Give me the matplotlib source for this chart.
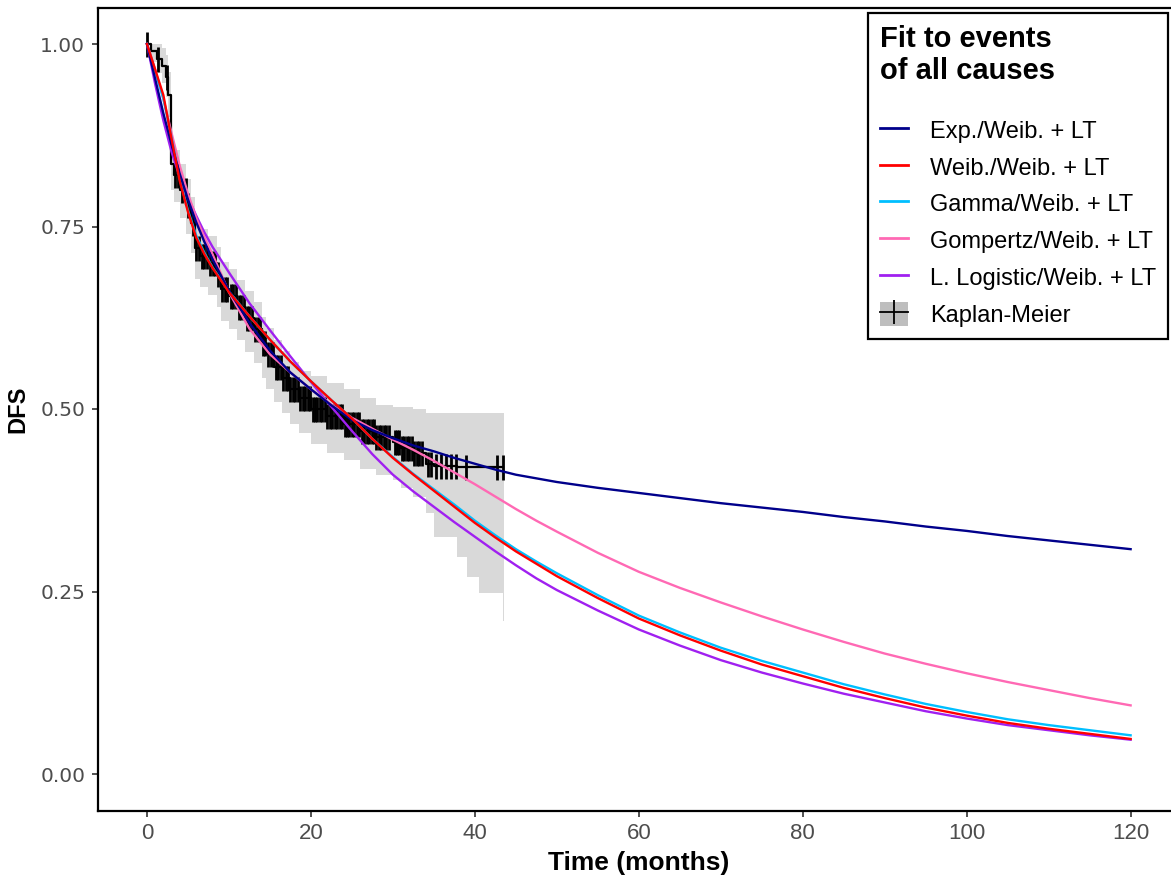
import numpy as np
import matplotlib.pyplot as plt
from matplotlib.lines import Line2D
from matplotlib.patches import Patch
from matplotlib import font_manager

# ---- data ----
t_fit = [0, 1, 2, 3, 4, 5, 6, 7, 8, 10, 12.5, 15, 17.5, 20, 22.5, 25, 27.5, 30, 32.5, 35, 37.5, 40, 42.5,
         45, 47.5, 50, 55, 60, 65, 70, 75, 80, 85, 90, 95, 100, 105, 110, 115, 120]

s_exp = [1.0, 0.952, 0.905, 0.862, 0.822, 0.787, 0.756, 0.729, 0.705, 0.662, 0.618, 0.58, 0.55, 0.527, 0.505,
         0.485, 0.471, 0.46, 0.45, 0.442, 0.433, 0.425, 0.417, 0.41, 0.405, 0.4, 0.392, 0.385, 0.378, 0.371,
         0.365, 0.359, 0.352, 0.346, 0.339, 0.333, 0.326, 0.32, 0.314, 0.308]
s_weib = [1.0, 0.965, 0.93, 0.87, 0.812, 0.77, 0.735, 0.712, 0.693, 0.66, 0.627, 0.595, 0.565, 0.538, 0.512,
          0.487, 0.459, 0.433, 0.41, 0.388, 0.366, 0.344, 0.324, 0.305, 0.288, 0.271, 0.241, 0.213, 0.19, 0.169,
          0.15, 0.134, 0.118, 0.104, 0.091, 0.08, 0.07, 0.062, 0.055, 0.048]
s_gamma = [1.0, 0.963, 0.925, 0.872, 0.815, 0.772, 0.738, 0.714, 0.694, 0.661, 0.627, 0.595, 0.565, 0.538, 0.512,
           0.487, 0.459, 0.434, 0.411, 0.39, 0.369, 0.347, 0.327, 0.308, 0.291, 0.275, 0.245, 0.217, 0.194, 0.173,
           0.155, 0.139, 0.123, 0.109, 0.096, 0.085, 0.075, 0.067, 0.06, 0.053]
s_gomp = [1.0, 0.965, 0.925, 0.878, 0.833, 0.795, 0.762, 0.735, 0.712, 0.66, 0.61, 0.575, 0.55, 0.527, 0.506,
          0.488, 0.473, 0.458, 0.444, 0.429, 0.413, 0.397, 0.38, 0.363, 0.347, 0.332, 0.303, 0.277, 0.255, 0.235,
          0.216, 0.198, 0.181, 0.165, 0.151, 0.138, 0.126, 0.115, 0.104, 0.094]
s_llog = [1.0, 0.945, 0.895, 0.852, 0.818, 0.79, 0.765, 0.742, 0.722, 0.687, 0.645, 0.608, 0.572, 0.537, 0.503,
          0.47, 0.438, 0.41, 0.387, 0.366, 0.345, 0.325, 0.305, 0.286, 0.268, 0.252, 0.224, 0.198, 0.176, 0.156,
          0.139, 0.124, 0.11, 0.098, 0.086, 0.076, 0.067, 0.06, 0.053, 0.047]

# Kaplan-Meier step function with its confidence band
km_t = [0, 0.5, 1.2, 1.8, 2.3, 2.6, 2.9, 3.3, 4.0, 4.8, 5.4, 5.8, 6.5, 7.5, 8.5, 9.0, 10.0, 11.0, 12.0, 13.0,
        14.0, 14.5, 15.5, 16.5, 17.5, 18.5, 20.0, 22.0, 24.0, 26.0, 28.0, 30.0, 31.0, 32.5, 34.0, 35.0, 37.8,
        39.0, 40.5, 43.4]
km_s = [1.0, 0.99, 0.98, 0.97, 0.955, 0.93, 0.835, 0.82, 0.80, 0.78, 0.755, 0.72, 0.71, 0.70, 0.685, 0.665,
        0.655, 0.64, 0.625, 0.61, 0.59, 0.575, 0.558, 0.543, 0.528, 0.515, 0.50, 0.49, 0.48, 0.47, 0.462, 0.455,
        0.447, 0.44, 0.425, 0.422, 0.42, 0.42, 0.42, 0.42]
km_lo = [1.0, 0.975, 0.960, 0.946, 0.928, 0.900, 0.800, 0.784, 0.762, 0.740, 0.714, 0.678, 0.667, 0.656, 0.640,
         0.620, 0.610, 0.594, 0.578, 0.563, 0.542, 0.527, 0.510, 0.495, 0.480, 0.467, 0.452, 0.440, 0.430, 0.418,
         0.410, 0.403, 0.392, 0.380, 0.357, 0.325, 0.297, 0.270, 0.248, 0.210]
km_hi = [1.0, 1.0, 1.0, 0.995, 0.985, 0.962, 0.87, 0.855, 0.835, 0.815, 0.79, 0.757, 0.747, 0.737, 0.722, 0.702,
         0.692, 0.677, 0.661, 0.646, 0.626, 0.611, 0.594, 0.579, 0.564, 0.552, 0.545, 0.536, 0.527, 0.515, 0.505,
         0.503, 0.503, 0.5, 0.494, 0.494, 0.494, 0.494, 0.494, 0.494]
km_end = 43.6

# censoring marks (months)
cens_t = [0.0, 1.4, 2.5, 3.4, 3.8, 4.3, 4.7, 5.0, 5.6, 6.0, 6.3, 6.7, 7.0, 7.3, 7.7, 8.0, 8.3, 8.7, 9.2, 9.5,
          9.8, 10.2, 10.5, 10.8, 11.2, 11.5, 11.8, 12.2, 12.5, 12.8, 13.2, 13.5, 13.8, 14.2, 14.4, 14.8, 15.1,
          15.4, 15.7, 16.0, 16.3, 16.6, 16.9, 17.2, 17.5, 17.8, 18.1, 18.4, 18.7, 19.0, 19.3, 19.6, 19.9, 20.2,
          20.5, 20.8, 21.1, 21.4, 21.7, 22.0, 22.3, 22.6, 22.9, 23.2, 23.5, 23.8, 24.1, 24.4, 24.7, 25.0, 25.3,
          25.6, 25.9, 26.2, 26.5, 26.8, 27.1, 27.4, 27.7, 28.0, 28.3, 28.6, 28.9, 29.2, 29.5, 30.2, 30.5, 30.8,
          31.1, 31.4, 31.7, 32.0, 32.3, 32.6, 32.9, 33.2, 33.5, 34.3, 34.7, 35.3, 35.9, 36.5, 37.1, 37.7, 38.9,
          42.7, 43.4]

labels = ["Exp./Weib. + LT", "Weib./Weib. + LT", "Gamma/Weib. + LT", "Gompertz/Weib. + LT", "L. Logistic/Weib. + LT"]
colors = ["#00008B", "#FF0000", "#00BFFF", "#FF69B4", "#A020F0"]
curves = [s_exp, s_weib, s_gamma, s_gomp, s_llog]

installed = {f.name for f in font_manager.fontManager.ttflist}
base_font = "Liberation Sans" if "Liberation Sans" in installed else "DejaVu Sans"
narrow_font = "Liberation Sans Narrow" if "Liberation Sans Narrow" in installed else base_font
plt.rcParams['font.family'] = [base_font, 'DejaVu Sans']

fig = plt.figure(figsize=(11.71, 8.77), dpi=100)
ax = fig.add_axes([97.8 / 1171, 66.5 / 877, 1082 / 1171, 803 / 877])

# KM band + steps + censor ticks
ax.fill_between(km_t + [km_end], km_lo + [km_lo[-1]], km_hi + [km_hi[-1]], step='post',
                color='#d9d9d9', lw=0, zorder=1)
ax.step(km_t, km_s, where='post', color='black', lw=1.6, zorder=2)
idx = np.searchsorted(km_t, cens_t, side='right') - 1
ax.plot(cens_t, np.array(km_s)[idx], ls='none', marker='|', ms=18, mew=2.0, color='black', zorder=3)

# fitted curves (red ends up on top, like the original)
order = [4, 3, 2, 0, 1]
for i in order:
    ax.plot(t_fit, curves[i], color=colors[i], lw=1.7, zorder=4 + order.index(i))

ax.set_xlim(-6, 126)
ax.set_ylim(-0.05, 1.05)
ax.set_xticks(range(0, 121, 20))
ax.set_yticks([0, 0.25, 0.5, 0.75, 1.0])
ax.set_yticklabels(["0.00", "0.25", "0.50", "0.75", "1.00"], fontsize=14.5, color='#4d4d4d', family='DejaVu Sans')
ax.set_xticklabels([str(v) for v in range(0, 121, 20)], fontsize=16, color='#4d4d4d', family=narrow_font)
ax.tick_params(direction='out', length=4, width=1.2, color='#333333', pad=5)
for sp in ax.spines.values():
    sp.set_linewidth(1.6)
    sp.set_color('black')

ax.set_xlabel("Time (months)", fontsize=19, fontweight='bold', family=narrow_font, labelpad=5)
ax.set_ylabel("DFS", fontsize=17, fontweight='bold', family=narrow_font, labelpad=8)

handles = [Line2D([], [], color=c, lw=2) for c in colors]
km_handle = (Patch(facecolor='#bebebe', edgecolor='none'),
             Line2D([], [], color='black', lw=1.3, marker='|', ms=17, mew=1.3))
leg = ax.legend(handles + [km_handle], labels + ["Kaplan-Meier"],
                title="Fit to events\nof all causes\n", loc='upper right',
                bbox_to_anchor=(1168 / 1171, 1 - 13 / 877), bbox_transform=fig.transFigure,
                fontsize=17, title_fontproperties={'size': 21, 'weight': 'bold'},
                alignment='left', frameon=True, fancybox=False, framealpha=1,
                edgecolor='black', borderpad=0.5, handlelength=1.2, handleheight=1.2,
                handletextpad=0.92, labelspacing=0.5, borderaxespad=0)
leg._legend_box.sep = 0
leg.get_frame().set_linewidth(1.6)
leg.set_zorder(20)

fig.savefig("out.png", dpi=100)
